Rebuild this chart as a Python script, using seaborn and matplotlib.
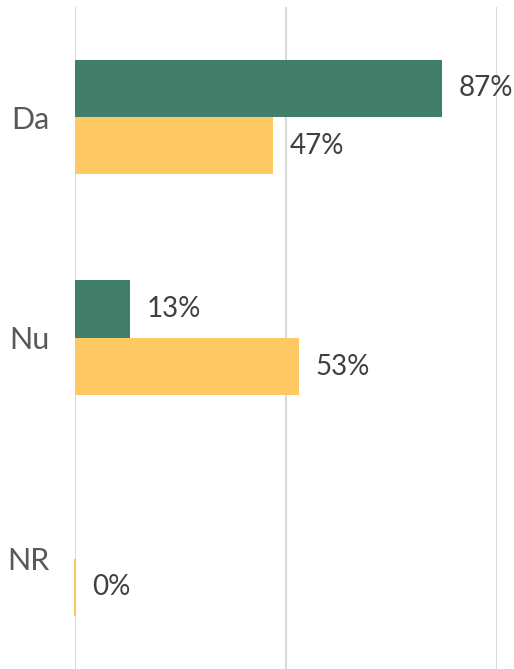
import pandas as pd
import matplotlib.pyplot as plt
import seaborn as sns

# ── Data ──────────────────────────────────────────────────────────────────────

CATEGORIES: list[str] = ['Da', 'Nu', 'NR']
SERIES: list[str] = ['Serie 1', 'Serie 2']
VALUES_GREEN: list[int] = [87, 13, 0]
VALUES_YELLOW: list[int] = [47, 53, 0]

COLOUR_GREEN: str = '#417F6A'
COLOUR_YELLOW: str = '#FEC862'

# ── Plot ──────────────────────────────────────────────────────────────────────

sns.set_style('white')
plt.rcParams['font.family'] = ['Lato', 'DejaVu Sans']

df = pd.DataFrame({
    'cat': CATEGORIES * 2,
    'series': [SERIES[0]] * 3 + [SERIES[1]] * 3,
    'value': VALUES_GREEN + VALUES_YELLOW,
})

fig = plt.figure(figsize=(5.14, 6.69), dpi=100)
ax = fig.add_axes([75 / 514, 0.0, (497 - 75) / 514, 0.990])

sns.barplot(
    data=df, y='cat', x='value', hue='series', order=CATEGORIES,
    hue_order=SERIES, palette=[COLOUR_GREEN, COLOUR_YELLOW],
    orient='h', width=0.52, gap=0, legend=False, ax=ax, zorder=3,
    saturation=1, linewidth=0,
)

ax.set_xlim(0, 100)
ax.set_xticks([0, 50, 100])
ax.xaxis.grid(True, color='#D9D9D9', linewidth=1.5, zorder=0)
ax.set_axisbelow(True)
for s in ax.spines.values():
    s.set_visible(False)
ax.tick_params(axis='x', length=0, labelbottom=False)
ax.tick_params(axis='y', length=0, pad=18, labelsize=22, labelcolor='#595959')
ax.set_xlabel('')
ax.set_ylabel('')

# value labels (green 0 is not shown)
for container, series in zip(ax.containers, SERIES):
    for patch in container:
        w = patch.get_width()
        if w == 0:
            if series == SERIES[0]:
                continue
            patch.set_edgecolor(COLOUR_YELLOW)
            patch.set_linewidth(1.5)
            patch.set_clip_on(False)
            patch.set_zorder(5)
        ax.annotate(
            f'{w:.0f}%', (w, patch.get_y() + patch.get_height() / 2),
            xytext=(12, 0), textcoords='offset points',
            ha='left', va='center', fontsize=20, color='#404040',
            annotation_clip=False,
        )

fig.savefig('out.png', dpi=100)
